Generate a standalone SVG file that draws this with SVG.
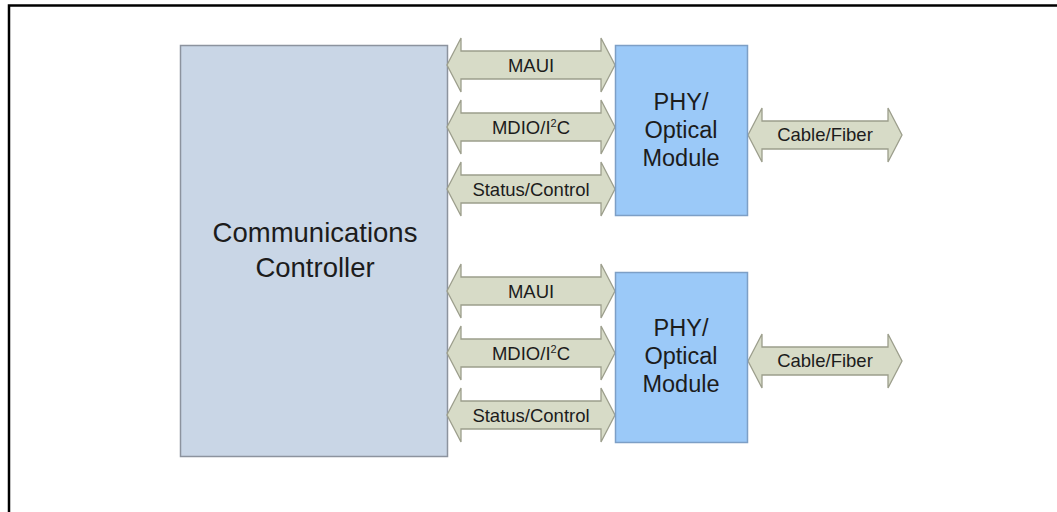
<svg xmlns="http://www.w3.org/2000/svg" xmlns:xlink="http://www.w3.org/1999/xlink" width="1057" height="512" viewBox="0 0 1057 512">
<style>
.t{font-family:"Liberation Sans",Arial,sans-serif;fill:#1c1c1c;text-anchor:middle}
.bus{fill:#d7dbc7;stroke:#9c9e8c;stroke-width:1.3}
.ctl{fill:#c9d6e6;stroke:#8c939e;stroke-width:1.5}
.phy{fill:#9bc9f8;stroke:#7d9fc6;stroke-width:1.5}
.s{font-size:18.5px}
.p{font-size:23.5px}
</style>
<defs>
<path id="bus" class="bus" d="M0,0 L14,-27 L14,-14 L154,-14 L154,-27 L168,0 L154,27 L154,14 L14,14 L14,27 Z"/>
<path id="cab" class="bus" d="M0,0 L14,-27 L14,-14 L140,-14 L140,-27 L154,0 L140,27 L140,14 L14,14 L14,27 Z"/>
</defs>
<rect width="1057" height="512" fill="#fff"/>
<path d="M9,512 V5.5 H1057" fill="none" stroke="#000" stroke-width="2.5"/>
<g id="controller">
<rect class="ctl" x="180.5" y="45.5" width="267" height="411"/>
<text class="t" x="315" y="242" font-size="27.5">Communications</text>
<text class="t" x="315" y="277" font-size="27.5">Controller</text>
</g>
<g id="connectors">
<use xlink:href="#bus" x="447" y="65"/>
<use xlink:href="#bus" x="447" y="127"/>
<use xlink:href="#bus" x="447" y="189"/>
<use xlink:href="#cab" x="748" y="135"/>
<use xlink:href="#bus" x="447" y="291"/>
<use xlink:href="#bus" x="447" y="353"/>
<use xlink:href="#bus" x="447" y="415"/>
<use xlink:href="#cab" x="748" y="361"/>
<text class="t s" x="531" y="72">MAUI</text>
<text class="t s" x="531" y="134">MDIO/I<tspan font-size="11" dy="-7">2</tspan><tspan dy="7">C</tspan></text>
<text class="t s" x="531" y="196">Status/Control</text>
<text class="t s" x="825" y="141">Cable/Fiber</text>
<text class="t s" x="531" y="298">MAUI</text>
<text class="t s" x="531" y="360">MDIO/I<tspan font-size="11" dy="-7">2</tspan><tspan dy="7">C</tspan></text>
<text class="t s" x="531" y="422">Status/Control</text>
<text class="t s" x="825" y="367">Cable/Fiber</text>
</g>
<g id="phy1">
<rect class="phy" x="615.5" y="45.5" width="132" height="170"/>
<text class="t p" x="681" y="110">PHY/</text>
<text class="t p" x="681" y="138">Optical</text>
<text class="t p" x="681" y="166">Module</text>
</g>
<g id="phy2">
<rect class="phy" x="615.5" y="272.5" width="132" height="170"/>
<text class="t p" x="681" y="336">PHY/</text>
<text class="t p" x="681" y="364">Optical</text>
<text class="t p" x="681" y="392">Module</text>
</g>
</svg>
